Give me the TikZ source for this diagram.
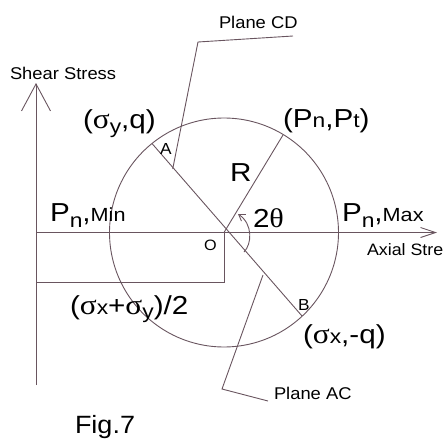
\documentclass[tikz,border=0pt]{standalone}
\usepackage{fontspec}
\setmainfont{Liberation Sans}[FakeStretch=1.08]
\newfontfamily\bigfam{Liberation Sans}[FakeStretch=1.14]
\newfontfamily\grf{Liberation Serif}[FakeStretch=1.12]
\usetikzlibrary{arrows.meta,calc}
\definecolor{lncol}{RGB}{105,85,95}
\newcommand\fsz[1]{\fontsize{#1}{#1}\selectfont}
\newcommand\lsb[2][0pt]{\raisebox{-#1}{\fsz{20}#2}}
\newcommand\sgm{{\grf\fsz{28}σ}}
\begin{document}
\begin{tikzpicture}[x=1pt,y=-1pt,
  ln/.style={draw=lncol, line width=0.9pt},
  lab/.style={anchor=base west, inner sep=0pt, outer sep=0pt, text=black},
  small/.style={lab, font=\fsz{17}},
  big/.style={lab, font=\bigfam\fsz{26}}]
\useasboundingbox (0,0) rectangle (445,439);
% key points
\coordinate (O) at (224,232.5);
\coordinate (A) at (152,143.5);
\coordinate (B) at (302,316);
\coordinate (Pt) at (283,135);
\coordinate (xs) at (36,232.5);
\coordinate (xe) at (437,232.5);
\coordinate (ys) at (36,385);
\coordinate (ye) at (36,83);
\coordinate (rb) at (224,282);
\coordinate (lb) at (36,282);
\coordinate (cd1) at (172.7,169);
\coordinate (cd2) at (198,42);
\coordinate (cd3) at (293,36);
\coordinate (ac1) at (263,275);
\coordinate (ac2) at (222,389);
\coordinate (ac3) at (268,401);
\coordinate (t1) at (244,252);
\coordinate (t2) at (238,214);
% circle
\draw[ln, line join=round] plot[domain=0:360, samples=181] ({224+114.5*cos(\x)},{232.5+114.5*sin(\x)}) -- cycle;
% axes
\draw[ln, -{Straight Barb[length=15pt,width=10pt,line width=0.9pt]}] (xs) -- (xe);
\draw[ln, -{Straight Barb[length=27pt,width=29pt,line width=0.9pt]}] (ys) -- (ye);
% rectangle
\draw[ln] (O) -- (rb) -- (lb);
% diameter and radius
\draw[ln] (A) -- (B);
\draw[ln] (O) -- (Pt);
% angle arc
\draw[ln, -{Straight Barb[length=6pt,width=8pt,line width=0.9pt]}] (t1) .. controls (252,244) and (253,224) .. (t2);
% leaders
\draw[ln] (cd1) -- (cd2) -- (cd3);
\draw[ln] (ac1) -- (ac2) -- (ac3);
% labels
\node[small] (shear) at (10,79) {Shear Stress};
\node[small] (planecd) at (219,28) {Plane CD};
\node[small] (planeac) at (274,399) {Plane AC};
\node[lab, font=\fsz{16.5}] (axial) at (367,255) {Axial Stre};
\node[lab, font=\fsz{25}] (fig) at (75,433) {Fig.7};
\node[big] (syq) at (83,128) {(\sgm\lsb[5pt]{y},q)};
\node[big] (pnpt) at (283,127) {(P\lsb{n},P\lsb{t})};
\node[big] (R) at (230,181) {R};
\node[lab, font=\fsz{16}] (Alab) at (160,154) {A};
\node[lab, font=\fsz{16}] (Blab) at (298,310) {B};
\node[lab, font=\fsz{15}] (Olab) at (204,250) {O};
\node[big] (theta) at (253,227) {2{\grf\fsz{27}θ}};
\node[big] (pnmin) at (50,221) {P\lsb[6pt]{n},{\fsz{19}Min}};
\node[big] (pnmax) at (342,221) {P\lsb[6pt]{n},{\fsz{19}Max}};
\node[big] (avg) at (70,314) {(\sgm\lsb{x}+\sgm\lsb[4pt]{y})/2};
\node[big] (sxq) at (303,343) {(\sgm\lsb{x},-q)};
\end{tikzpicture}
\end{document}
